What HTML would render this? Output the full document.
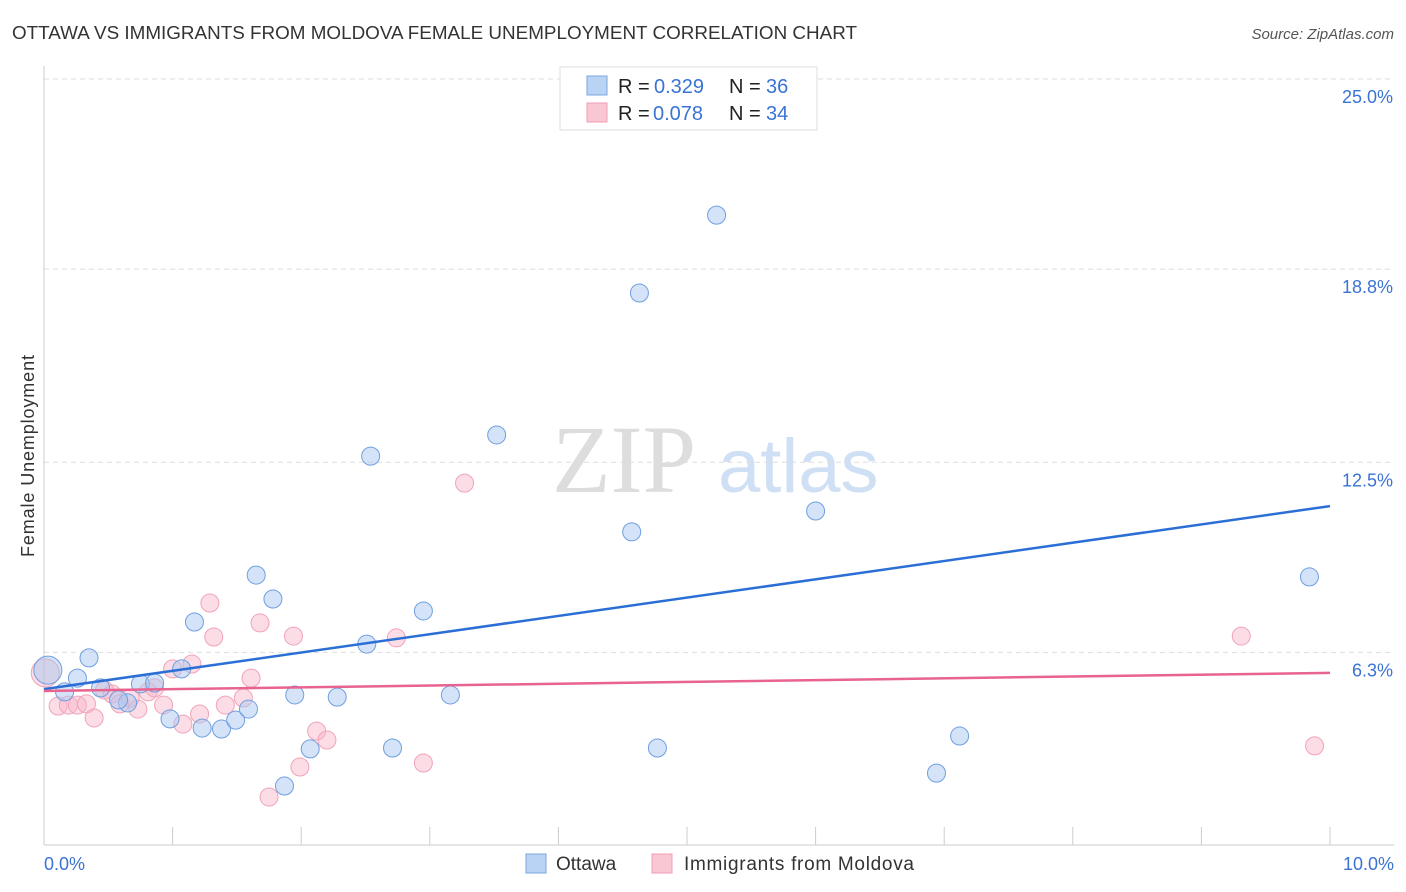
<!DOCTYPE html>
<html><head><meta charset="utf-8"><style>
body{margin:0;background:#fff;font-family:"Liberation Sans",sans-serif;}
svg{display:block}
</style></head><body>
<svg width="1406" height="892" xmlns="http://www.w3.org/2000/svg" id="chart">
<text x="12" y="39" font-size="18" fill="#333" textLength="845" lengthAdjust="spacingAndGlyphs">OTTAWA VS IMMIGRANTS FROM MOLDOVA FEMALE UNEMPLOYMENT CORRELATION CHART</text>
<text x="1394" y="39" font-size="15" fill="#555" font-style="italic" text-anchor="end">Source: ZipAtlas.com</text>
<g>
<text x="552" y="492" font-size="96" font-family="Liberation Serif,serif" fill="#ddd">ZIP</text>
<text x="718" y="492" font-size="76" fill="#cfe0f5">atlas</text>
</g>
<g id="grid"></g>
<g id="axes"></g>
<g id="marks"></g>
<text transform="translate(34,456) rotate(-90)" font-size="18" fill="#333" text-anchor="middle" textLength="202">Female Unemployment</text>
<g>
<rect x="560" y="67" width="257" height="63" fill="#fff" stroke="#ddd"/>
<rect x="587" y="76" width="20" height="19" fill="#b9d3f5" stroke="#7aa7e0"/>
<rect x="587" y="103" width="20" height="19" fill="#f9c6d4" stroke="#ef9db5"/>
<text x="618" y="93" font-size="20" fill="#222">R =</text>
<text x="654" y="93" font-size="20" fill="#3a73d4">0.329</text>
<text x="729" y="93" font-size="20" fill="#222">N =</text>
<text x="766" y="93" font-size="20" fill="#3a73d4">36</text>
<text x="618" y="120" font-size="20" fill="#222">R =</text>
<text x="653" y="120" font-size="20" fill="#3a73d4">0.078</text>
<text x="729" y="120" font-size="20" fill="#222">N =</text>
<text x="766" y="120" font-size="20" fill="#3a73d4">34</text>
</g>
<g>
<rect x="526" y="854" width="20" height="19" fill="#b9d3f5" stroke="#7aa7e0"/>
<text x="556" y="870" font-size="19" fill="#333">Ottawa</text>
<rect x="652" y="854" width="20" height="19" fill="#f9c6d4" stroke="#ef9db5"/>
<text x="684" y="870" font-size="19" fill="#333" textLength="230">Immigrants from Moldova</text>
</g>
</svg>
<script>
const yTicks=[25.0,18.8,12.5,6.3];
const yTickLabels=["25.0%","18.8%","12.5%","6.3%"];
const xTickCount=10;
const xLabels=["0.0%","10.0%"];
const ottawaX=[0.03,0.16,0.26,0.35,0.44,0.65,0.58,0.75,0.86,0.98,1.07,1.17,1.23,1.38,1.49,1.59,1.65,1.78,1.87,1.95,2.07,2.28,2.51,2.54,2.71,2.95,3.16,3.52,4.57,4.63,4.77,5.23,6.00,6.94,7.12,9.84];
const ottawaY=[5.72,5.01,5.46,6.12,5.14,4.65,4.75,5.27,5.30,4.13,5.76,7.29,3.83,3.80,4.09,4.45,8.82,8.04,1.94,4.91,3.15,4.84,6.57,12.70,3.18,7.65,4.91,13.39,10.23,18.02,3.18,20.56,10.91,2.36,3.57,8.76];
const moldX=[0.01,0.11,0.19,0.26,0.33,0.39,0.47,0.53,0.59,0.67,0.73,0.81,0.86,0.93,1.00,1.08,1.15,1.21,1.29,1.32,1.41,1.55,1.61,1.68,1.75,1.94,1.99,2.12,2.20,2.74,2.95,3.27,9.31,9.88];
const moldY=[5.63,4.55,4.58,4.58,4.62,4.16,5.07,4.94,4.62,4.81,4.45,5.01,5.14,4.58,5.76,3.96,5.92,4.29,7.91,6.80,4.58,4.81,5.46,7.26,1.58,6.83,2.56,3.73,3.44,6.77,2.69,11.82,6.83,3.25];
const ottawaTrend=[5.10,11.07];
const moldTrend=[5.04,5.63];

const NS="http://www.w3.org/2000/svg";
const X=v=>44+v*128.6;
const Y=v=>79+(25-v)*30.66;
function mk(tag,attrs,parent){const e=document.createElementNS(NS,tag);for(const k in attrs)e.setAttribute(k,attrs[k]);parent.appendChild(e);return e;}
const grid=document.getElementById('grid'),axes=document.getElementById('axes'),marks=document.getElementById('marks');
yTicks.forEach((t,i)=>{
  const l=mk('line',{x1:44,x2:1394,y1:Y(t),y2:Y(t),stroke:'#ddd','stroke-dasharray':'5,4'},grid);
  
  
  const tx=mk('text',{x:1393,y:Y(t)+24,'font-size':18,fill:'#3a73d4','text-anchor':'end'},axes);
  tx.textContent=yTickLabels[i];
  
  
});
const ax=mk('line',{x1:44,x2:1394,y1:845,y2:845,stroke:'#ccc'},axes);


const ay=mk('line',{x1:44,x2:44,y1:66,y2:845,stroke:'#ccc'},axes);


for(let i=0;i<=xTickCount;i++){
  const t=mk('line',{x1:X(i),x2:X(i),y1:827,y2:845,stroke:'#ccc'},axes);
  
  
}
const xl0=mk('text',{x:44,y:870,'font-size':18,fill:'#3a73d4'},axes);xl0.textContent=xLabels[0];


const xl1=mk('text',{x:1394,y:870,'font-size':18,fill:'#3a73d4','text-anchor':'end'},axes);xl1.textContent=xLabels[1];


function pts(xs,ys,fill,stroke,name){
  xs.forEach((x,i)=>{
    const r=(i===0)?14:9;
    const c=mk('circle',{cx:X(x),cy:Y(ys[i]),r:r,fill:fill,stroke:stroke,'stroke-width':1},marks);
    
    
  });
}
pts(moldX,moldY,'rgba(248,180,200,0.45)','#f0a3ba','moldova-point');
pts(ottawaX,ottawaY,'rgba(170,200,240,0.5)','#6f9fe0','ottawa-point');
const bl=mk('line',{x1:X(0),x2:X(10),y1:Y(ottawaTrend[0]),y2:Y(ottawaTrend[1]),stroke:'#2b6fd6','stroke-width':2.5},marks);


const pl=mk('line',{x1:X(0),x2:X(10),y1:Y(moldTrend[0]),y2:Y(moldTrend[1]),stroke:'#e8638f','stroke-width':2.5},marks);


</script>
</body></html>
